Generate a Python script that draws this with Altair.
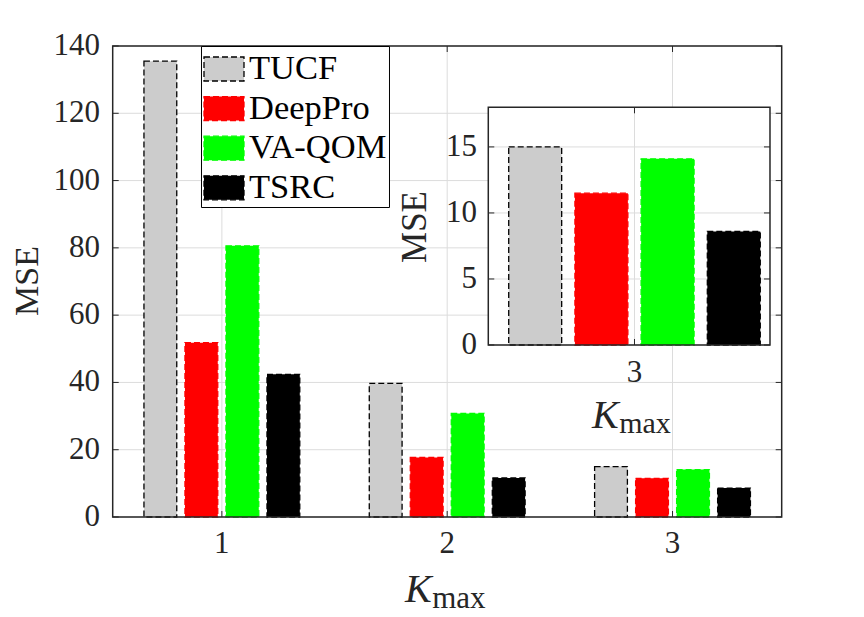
import altair as alt
import pandas as pd

# ---------------- data ----------------
series = ["TUCF", "DeepPro", "VA-QOM", "TSRC"]
k_values = ["1", "2", "3"]
tucf = [135.5, 39.7, 15.0]
deeppro = [51.8, 17.7, 11.5]
vaqom = [80.6, 30.8, 14.1]
tsrc = [42.4, 11.6, 8.6]
fill_colors = ["#cccccc", "#ff0000", "#00ff00", "#000000"]
stroke_colors = ["#000000", "#ff0000", "#00ff00", "#000000"]
main_y_ticks = [0, 20, 40, 60, 80, 100, 120, 140]
inset_k = ["3"]
inset_y_ticks = [0, 5, 10, 15]

rows = []
for s, vals in zip(series, [tucf, deeppro, vaqom, tsrc]):
    for k, v in zip(k_values, vals):
        rows.append({"k": k, "series": s, "mse": v})
df = pd.DataFrame(rows)
df_inset = df[df["k"].isin(inset_k)].reset_index(drop=True)
one = pd.DataFrame({"a": [0]})

# ---------------- layout constants ----------------
W, H = 669, 471
IX0, IX1, IY0, IY1 = 375.6, 657.3, 61.3, 299.0
FONT = "Liberation Serif"
AX = "#262626"
GRID = "#dcdcdc"
TL = 6

xs_main = alt.Scale(domain=k_values, paddingInner=0.272, paddingOuter=0.1205)
xo_main = alt.Scale(domain=series, paddingInner=0.2, paddingOuter=0.1)
ys_main = alt.Scale(domain=[0, 140], nice=False)

xs_in = alt.Scale(domain=inset_k, range=[IX0, IX1], paddingInner=0,
                  paddingOuter=0.0319, align=0.817)
xo_in = alt.Scale(domain=series, paddingInner=0.2, paddingOuter=0.1)
ys_in = alt.Scale(domain=[0, 18], range=[IY1, IY0], nice=False)

leg = alt.Legend(title=None, orient="none", legendX=88.3, legendY=0,
                 symbolType="M-1,-0.6H1V0.6H-1Z", symbolSize=1600,
                 symbolStrokeWidth=1.3, symbolDash=[6, 3],
                 labelFont=FONT, labelFontSize=34.5, labelColor="#000000",
                 labelOffset=4, labelLimit=400, rowPadding=1.6, padding=2,
                 strokeColor="#000000", fillColor="#ffffff")

fill = alt.Fill("series:N", scale=alt.Scale(domain=series, range=fill_colors), legend=leg)
stroke = alt.Stroke("series:N", scale=alt.Scale(domain=series, range=stroke_colors), legend=leg)

ty_main = pd.DataFrame({"t": main_y_ticks})
tx_main = pd.DataFrame({"k": k_values})
ty_in = pd.DataFrame({"t": inset_y_ticks})
tx_in = pd.DataFrame({"k": inset_k})


def hrules(data, ys, x0, x1, color, width=1):
    return alt.Chart(data).mark_rule(color=color, strokeWidth=width).encode(
        y=alt.Y("t:Q", scale=ys, axis=None), x=alt.value(x0), x2=alt.value(x1))


def vrules(data, xs, y0, y1, color, width=1):
    return alt.Chart(data).mark_rule(color=color, strokeWidth=width).encode(
        x=alt.X("k:N", scale=xs, axis=None), y=alt.value(y0), y2=alt.value(y1))


# ---------------- main panel ----------------
grid_h = hrules(ty_main, ys_main, 0, W, GRID)
grid_v = vrules(tx_main, xs_main, 0, H, GRID)

bars_main = alt.Chart(df).mark_bar(strokeWidth=1.3, strokeDash=[6, 3]).encode(
    x=alt.X("k:N", scale=xs_main, axis=None),
    xOffset=alt.XOffset("series:N", scale=xo_main),
    y=alt.Y("mse:Q", scale=ys_main, axis=None),
    fill=fill,
    stroke=stroke,
)

tick_l = hrules(ty_main, ys_main, 0, TL, AX)
tick_r = hrules(ty_main, ys_main, W, W - TL, AX)
tick_b = vrules(tx_main, xs_main, H, H - TL, AX)
tick_t = vrules(tx_main, xs_main, 0, TL, AX)
frame_main = alt.Chart(one).mark_rect(filled=False, stroke=AX, strokeWidth=1.5).encode(
    x=alt.value(0), x2=alt.value(W), y=alt.value(0), y2=alt.value(H))

ylab_main = alt.Chart(ty_main).mark_text(font=FONT, fontSize=31, color=AX,
                                         align="right", baseline="middle").encode(
    y=alt.Y("t:Q", scale=ys_main, axis=None), x=alt.value(-12.7), text="t:Q")
xlab_main = alt.Chart(tx_main).mark_text(font=FONT, fontSize=31, color=AX,
                                         align="center", baseline="top").encode(
    x=alt.X("k:N", scale=xs_main, axis=None), y=alt.value(H + 12.2), text="k:N")

mse_main = alt.Chart(one).mark_text(text="MSE", font=FONT, fontSize=34, angle=270,
                                    align="center", baseline="middle", color=AX).encode(
    x=alt.value(-84.2), y=alt.value(235))
k_main = alt.Chart(one).mark_text(text="K", font=FONT, fontSize=40, fontStyle="italic",
                                  align="left", baseline="alphabetic", color=AX).encode(
    x=alt.value(292.3), y=alt.value(556))
max_main = alt.Chart(one).mark_text(text="max", font=FONT, fontSize=31,
                                    align="left", baseline="alphabetic", color=AX).encode(
    x=alt.value(319.5), y=alt.value(562))

main_layer = alt.layer(grid_h, grid_v, bars_main, tick_l, tick_r, tick_b, tick_t,
                       frame_main, ylab_main, xlab_main, mse_main, k_main, max_main)

# ---------------- inset panel ----------------
bg_in = alt.Chart(one).mark_rect(fill="#ffffff").encode(
    x=alt.value(IX0), x2=alt.value(IX1), y=alt.value(IY0), y2=alt.value(IY1))
grid_h_in = hrules(ty_in, ys_in, IX0, IX1, GRID)
grid_v_in = vrules(tx_in, xs_in, IY0, IY1, GRID)

bars_in = alt.Chart(df_inset).mark_bar(strokeWidth=1.3, strokeDash=[6, 3]).encode(
    x=alt.X("k:N", scale=xs_in, axis=None),
    xOffset=alt.XOffset("series:N", scale=xo_in),
    y=alt.Y("mse:Q", scale=ys_in, axis=None),
    fill=fill,
    stroke=stroke,
)

itick_l = hrules(ty_in, ys_in, IX0, IX0 + TL, AX)
itick_r = hrules(ty_in, ys_in, IX1, IX1 - TL, AX)
itick_b = vrules(tx_in, xs_in, IY1, IY1 - TL, AX)
itick_t = vrules(tx_in, xs_in, IY0, IY0 + TL, AX)
frame_in = alt.Chart(one).mark_rect(filled=False, stroke=AX, strokeWidth=1.5).encode(
    x=alt.value(IX0), x2=alt.value(IX1), y=alt.value(IY0), y2=alt.value(IY1))

ylab_in = alt.Chart(ty_in).mark_text(font=FONT, fontSize=31, color=AX,
                                     align="right", baseline="middle").encode(
    y=alt.Y("t:Q", scale=ys_in, axis=None), x=alt.value(IX0 - 11.3), text="t:Q")
xlab_in = alt.Chart(tx_in).mark_text(font=FONT, fontSize=31, color=AX,
                                     align="center", baseline="top").encode(
    x=alt.X("k:N", scale=xs_in, axis=None), y=alt.value(IY1 + 13.5), text="k:N")

mse_in = alt.Chart(one).mark_text(text="MSE", font=FONT, fontSize=35, angle=270,
                                  align="center", baseline="middle", color=AX).encode(
    x=alt.value(302.3), y=alt.value(181))
k_in = alt.Chart(one).mark_text(text="K", font=FONT, fontSize=40, fontStyle="italic",
                                align="left", baseline="alphabetic", color=AX).encode(
    x=alt.value(479.3), y=alt.value(382.3))
max_in = alt.Chart(one).mark_text(text="max", font=FONT, fontSize=30,
                                  align="left", baseline="alphabetic", color=AX).encode(
    x=alt.value(506.5), y=alt.value(387))

inset_layer = alt.layer(bg_in, grid_h_in, grid_v_in, bars_in, itick_l, itick_r,
                        itick_b, itick_t, frame_in, ylab_in, xlab_in,
                        mse_in, k_in, max_in)

chart = alt.layer(main_layer, inset_layer).resolve_scale(
    x="independent", y="independent", xOffset="independent"
).properties(
    width=W, height=H,
    padding={"left": 104.7, "top": 38, "right": 50, "bottom": 100},
    autosize=alt.AutoSizeParams(type="none"),
).configure_view(stroke=None)

chart.save("out.html", embed_options={"renderer": "svg", "actions": False})
